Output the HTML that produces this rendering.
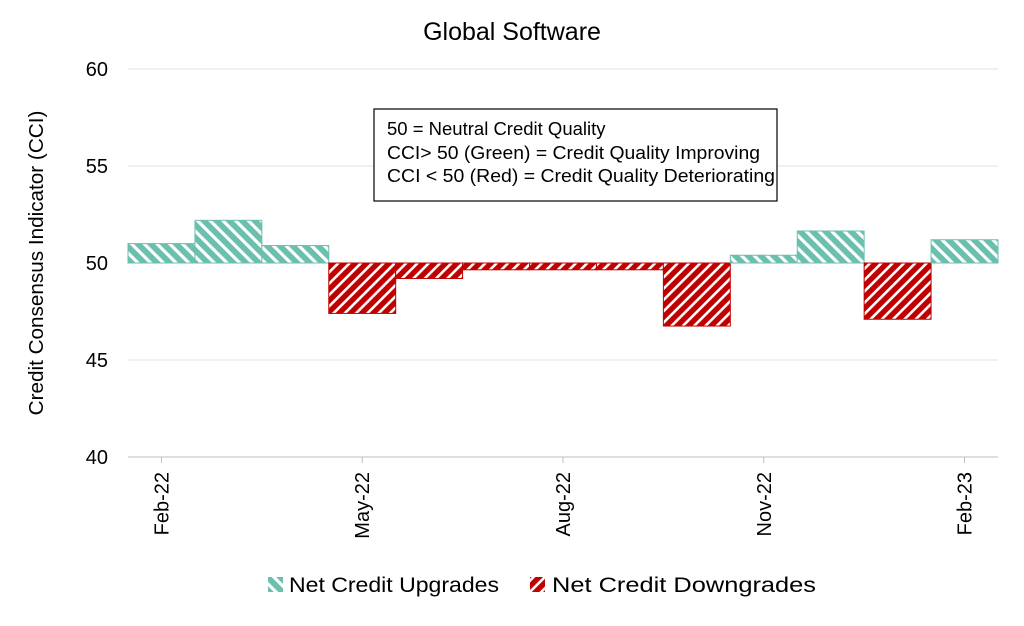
<!DOCTYPE html>
<html><head><meta charset="utf-8"><style>
body{margin:0;background:#fff;font-family:"Liberation Sans",Arial,sans-serif}
svg text{font-family:"Liberation Sans",Arial,sans-serif}
</style></head><body>
<svg id="chart" width="1024" height="621" viewBox="0 0 1024 621">
<defs>
<pattern id="up" patternUnits="userSpaceOnUse" width="9" height="9" patternTransform="rotate(-45)">
<rect width="9" height="9" fill="#6bbfae"/><rect width="3.2" height="9" fill="#fff"/></pattern>
<pattern id="down" patternUnits="userSpaceOnUse" width="8" height="8" patternTransform="rotate(45)">
<rect width="8" height="8" fill="#c00000"/><rect width="2.6" height="8" fill="#fff"/></pattern>
</defs>
<text x="512" y="40" font-size="25" text-anchor="middle" fill="#000">Global Software</text>
<g id="grid"></g>
<g id="bars"></g>
<g id="xaxis"></g>
<text transform="translate(43,263) rotate(-90)" font-size="20.7" text-anchor="middle">Credit Consensus Indicator (CCI)</text>
<g>
<rect x="374" y="109" width="403" height="92" fill="#fff" stroke="#000" stroke-width="1.2"/>
<text x="387" y="135" font-size="18.5">50 = Neutral Credit Quality</text>
<text x="387" y="159" font-size="18.5" textLength="373" lengthAdjust="spacingAndGlyphs">CCI&gt; 50 (Green) = Credit Quality Improving</text>
<text x="387" y="182" font-size="18.5" textLength="388" lengthAdjust="spacingAndGlyphs">CCI &lt; 50 (Red) = Credit Quality Deteriorating</text>
</g>
<g><rect x="268" y="577" width="15" height="15" fill="url(#up)"/>
<text x="289" y="592" font-size="21" textLength="210" lengthAdjust="spacingAndGlyphs">Net Credit Upgrades</text></g>
<g><rect x="530" y="577" width="15" height="15" fill="url(#down)"/>
<text x="552" y="592" font-size="21" textLength="264" lengthAdjust="spacingAndGlyphs">Net Credit Downgrades</text></g>
</svg>
<script>
const months=["Feb-22","Mar-22","Apr-22","May-22","Jun-22","Jul-22","Aug-22","Sep-22","Oct-22","Nov-22","Dec-22","Jan-23","Feb-23"];
const cci=[51.0,52.2,50.9,47.4,49.2,49.65,49.65,49.65,46.75,50.4,51.65,47.1,51.2];
const yTicks=[40,45,50,55,60];
const xLabels=["Feb-22","May-22","Aug-22","Nov-22","Feb-23"];
const NS="http://www.w3.org/2000/svg";
const x0=128,x1=998,bw=(x1-x0)/months.length;
const y=v=>457-(v-40)*(457-69)/20;
const xc=i=>x0+bw*(i+0.5);
function mk(t,a,p){const e=document.createElementNS(NS,t);for(const k in a)e.setAttribute(k,a[k]);p.appendChild(e);return e;}
const grid=document.getElementById('grid');
yTicks.forEach(v=>{
 const l=mk('line',{x1:x0,x2:x1,y1:y(v),y2:y(v),stroke:v==40?'#bfbfbf':'#e0e0e0','stroke-width':1},grid);
 
 
 const t=mk('text',{x:108,y:y(v)+7,'font-size':20,'text-anchor':'end'},grid);t.textContent=v;
 
 
});
const bars=document.getElementById('bars');
cci.forEach((v,i)=>{
 const up=v>=50;
 const r=mk('rect',{x:x0+bw*i,y:Math.min(y(v),y(50)),width:bw,height:Math.abs(y(v)-y(50)),fill:up?'url(#up)':'url(#down)',stroke:up?'#6bbfae':'#c00000','stroke-width':1},bars);
 
 
});
const xa=document.getElementById('xaxis');
xLabels.forEach(m=>{
 const i=months.indexOf(m),cx=xc(i);
 mk('line',{x1:cx,x2:cx,y1:457,y2:463,stroke:'#bfbfbf'},xa);
 const t=mk('text',{transform:`translate(${cx+7},472) rotate(-90)`,'font-size':20,'text-anchor':'end'},xa);t.textContent=m;
 
 
});
</script>
</body></html>
